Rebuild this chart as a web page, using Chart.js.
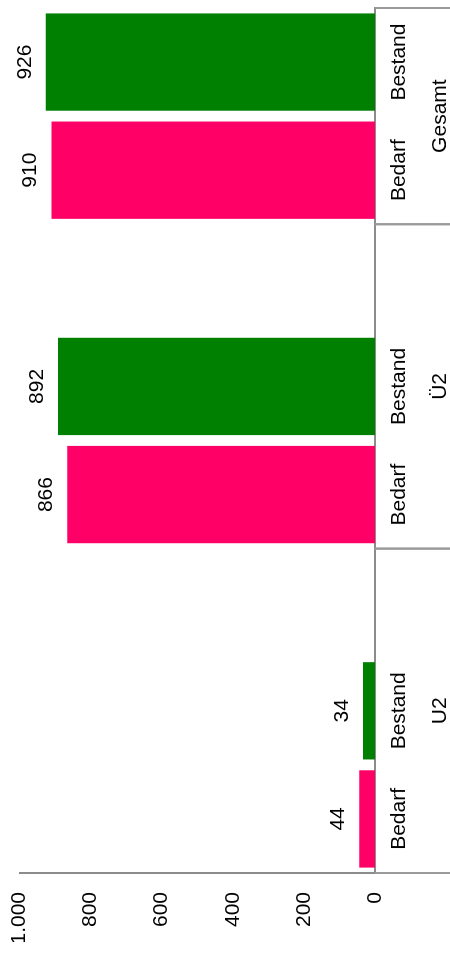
<!DOCTYPE html>
<html>
<head>
<meta charset="utf-8">
<script src="https://cdn.jsdelivr.net/npm/chart.js@4"></script>
<style>
    html, body { margin: 0; padding: 0; background: #ffffff; overflow: hidden; }
    body { width: 450px; height: 960px; position: relative; }
    /* chart is laid out as a normal column chart and turned on its side */
    #drehung {
        position: absolute;
        left: 0;
        top: 0;
        width: 960px;
        height: 450px;
        transform-origin: 0 0;
        transform: translateY(960px) rotate(-90deg);
    }
</style>
</head>
<body>
<div id="drehung">
    <canvas id="graficaBedarf" width="960" height="450"></canvas>
</div>
<script>
const gruppen = ['U2', 'Ü2', 'Gesamt'];
const reihen = ['Bedarf', 'Bestand'];
const bedarf = [44, 866, 910];
const bestand = [34, 892, 926];
const werteTicks = [0, 200, 400, 600, 800, 1000];

const farben = ['#FF0066', '#008000'];
const schrift = '"Liberation Sans", Arial, sans-serif';
const groesse = 21;

// one slot per bar, empty slot between groups
const etiketten = [];
const werte = [];
const balkenFarben = [];
const gruppenSpannen = [];
gruppen.forEach(function(gruppe, g) {
    const start = etiketten.length;
    etiketten.push(reihen[0], reihen[1]);
    werte.push(bedarf[g], bestand[g]);
    balkenFarben.push(farben[0], farben[1]);
    if (g < gruppen.length - 1) {
        etiketten.push('');
        werte.push(null);
        balkenFarben.push('rgba(0,0,0,0)');
    }
    gruppenSpannen.push({ name: gruppe, start: start, end: etiketten.length - 1 });
});

const formatDe = (v) => Number(v).toLocaleString('de-DE');

const wertBeschriftung = {
    id: 'wertBeschriftung',
    afterDatasetsDraw(chart) {
        const ctx = chart.ctx;
        const meta = chart.getDatasetMeta(0);
        ctx.save();
        ctx.font = groesse + 'px ' + schrift;
        ctx.fillStyle = '#000000';
        ctx.textAlign = 'center';
        ctx.textBaseline = 'alphabetic';
        meta.data.forEach(function(balken, i) {
            const v = chart.data.datasets[0].data[i];
            if (v === null) return;
            ctx.fillText(formatDe(v), balken.x, balken.y - 15);
        });
        ctx.restore();
    }
};

const gruppenAchse = {
    id: 'gruppenAchse',
    afterDraw(chart) {
        const ctx = chart.ctx;
        const x = chart.scales.x;
        const halb = x.width / etiketten.length / 2;
        const oben = chart.chartArea.bottom;
        ctx.save();
        ctx.strokeStyle = '#9a9a9a';
        ctx.lineWidth = 2;
        ctx.font = groesse + 'px ' + schrift;
        ctx.fillStyle = '#000000';
        ctx.textAlign = 'center';
        ctx.textBaseline = 'alphabetic';
        gruppenSpannen.forEach(function(sp) {
            const links = x.getPixelForValue(sp.start) - halb;
            const rechts = x.getPixelForValue(sp.end) + halb;
            [links, rechts].forEach(function(px) {
                ctx.beginPath();
                ctx.moveTo(px, oben);
                ctx.lineTo(px, chart.height);
                ctx.stroke();
            });
            ctx.fillText(sp.name, (links + rechts) / 2, 446);
        });
        ctx.restore();
    }
};

new Chart(document.getElementById('graficaBedarf'), {
    type: 'bar',
    data: {
        labels: etiketten,
        datasets: [{
            data: werte,
            backgroundColor: balkenFarben,
            borderWidth: 0,
            barPercentage: 0.9,
            categoryPercentage: 1
        }]
    },
    options: {
        responsive: false,
        animation: false,
        layout: {
            padding: { top: 19.5, right: 8, bottom: 40, left: 18 }
        },
        plugins: {
            legend: { display: false },
            tooltip: { enabled: false }
        },
        scales: {
            x: {
                afterFit: function(achse) {
                    achse.height = 35;
                },
                grid: { display: false, drawTicks: false },
                border: { display: true, color: '#8c8c8c', width: 2 },
                ticks: {
                    autoSkip: false,
                    maxRotation: 0,
                    padding: 12,
                    color: '#000000',
                    font: { family: schrift, size: groesse }
                }
            },
            y: {
                min: 0,
                max: 1000,
                afterBuildTicks: function(achse) {
                    achse.ticks = werteTicks.map(v => ({ value: v }));
                },
                afterFit: function(achse) {
                    achse.width = 69;
                    achse.paddingTop = 0;
                    achse.paddingBottom = 0;
                },
                grid: { display: false, drawTicks: false },
                border: { display: true, color: '#8c8c8c', width: 2 },
                ticks: {
                    padding: 19,
                    color: '#000000',
                    font: { family: schrift, size: groesse },
                    callback: (v) => formatDe(v)
                }
            }
        }
    },
    plugins: [wertBeschriftung, gruppenAchse]
});
</script>
</body>
</html>
